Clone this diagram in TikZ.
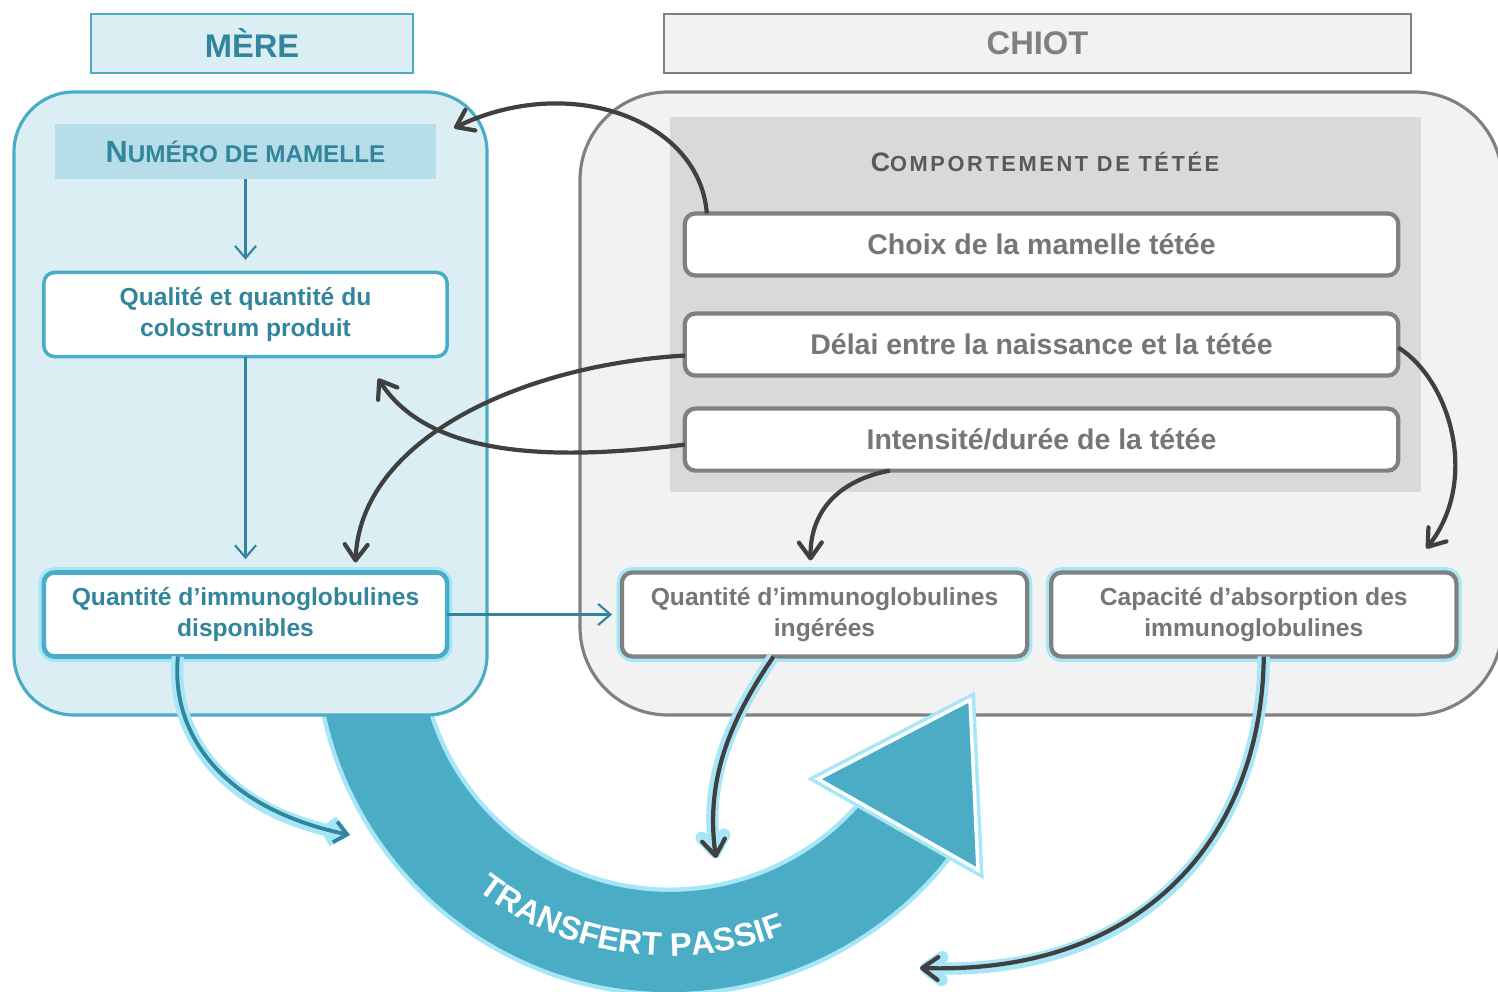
\documentclass[tikz,border=0pt]{standalone}
\usepackage{fontspec}
\setmainfont{Liberation Sans}
\usetikzlibrary{positioning, arrows.meta, calc, decorations.text}
\definecolor{mereline}{HTML}{4BACC6}
\definecolor{meretext}{HTML}{31859C}
\definecolor{merefill}{HTML}{DAEEF3}
\definecolor{numfill}{HTML}{B7DEE8}
\definecolor{chiotline}{HTML}{808080}
\definecolor{chiotfill}{HTML}{F2F2F2}
\definecolor{compfill}{HTML}{D9D9D9}
\definecolor{comptext}{HTML}{595959}
\definecolor{boxtext}{HTML}{767676}
\definecolor{arrowc}{HTML}{404040}
\definecolor{glowc}{HTML}{A6E6F7}
\newcommand\tpfont{\color{white}\bfseries\fontsize{9.3}{10}\selectfont}

\begin{document}
\begin{tikzpicture}[x=0.01cm, y=-0.01cm, node distance=3.5mm,
  title/.style={draw, line width=0.6pt, minimum height=0.59cm, inner sep=0pt, outer sep=0pt, font=\fontsize{9.3}{11}\selectfont\bfseries},
  mbox/.style={draw=mereline, fill=white, rounded corners=3pt, line width=1pt, minimum width=4.03cm, minimum height=0.84cm, inner sep=0pt, outer sep=0pt, align=center, text=meretext, font=\fontsize{7}{8.8}\selectfont\bfseries},
  cbox/.style={draw=chiotline, fill=white, rounded corners=3pt, line width=1.2pt, minimum width=7.13cm, minimum height=0.62cm, inner sep=0pt, outer sep=0pt, align=center, text=boxtext, font=\fontsize{8.1}{10}\selectfont\bfseries},
  lowbox/.style={minimum width=4.05cm, minimum height=0.84cm, font=\fontsize{7}{8.8}\selectfont\bfseries},
  glow/.style={preaction={draw=glowc, line width=#1}},
  dkarrow/.style={draw=arrowc, line width=1.2pt, -{Straight Barb[round,length=4.5pt,width=6.5pt]}},
  tlarrow/.style={draw=meretext, line width=0.6pt, -{Straight Barb[length=3.5pt,width=6pt]}}]
  \useasboundingbox (0,0) rectangle (1498,992);

  % transfert passif
  \draw[glowc, line width=31pt] (670,640) ++(172:302) arc[start angle=172, end angle=37, radius=302];
  \draw[mereline, line width=28.5pt] (670,640) ++(172:302) arc[start angle=172, end angle=37, radius=302];

  \draw[mereline, fill=merefill, line width=0.9pt, rounded corners=17pt] (14,92) rectangle (487,715);
  \draw[chiotline, fill=chiotfill, line width=0.9pt, rounded corners=25pt] (580,92) rectangle (1502,715);
  \fill[compfill] (670,117) rectangle (1421,492);

  \node[title, draw=mereline, fill=merefill, text=meretext, minimum width=3.22cm] (mere) at (252,43.5) {MÈRE};
  \node[title, draw=chiotline, fill=chiotfill, text=chiotline, minimum width=7.47cm] (chiot) at (1037.5,43.5) {CHIOT};

  \node[fill=numfill, minimum width=3.81cm, minimum height=0.55cm, inner sep=0pt, outer sep=0pt, text=meretext, font=\bfseries] (num) at (245.5,151.5) {\fontsize{8.7}{10}\selectfont N\fontsize{6.9}{10}\selectfont UMÉRO DE MAMELLE};
  \node[text=comptext, font=\bfseries] (comp) at (1045,162) {\fontsize{7.6}{10}\selectfont C\fontsize{6.2}{10}\selectfont\addfontfeature{LetterSpace=12}OMPORTEMENT DE TÉTÉE};

  \node[mbox] (qualite) at (245.5,314.5) {Qualité et quantité du\\colostrum produit};
  \node[mbox, line width=1.3pt, glow=3pt] (dispo) at (245.5,614.5) {Quantité d’immunoglobulines\\disponibles};

  \node[cbox] (choix) at (1041.5,244.5) {Choix de la mamelle tétée};
  \node[cbox, below=0.38cm of choix] (delai) {Délai entre la naissance et la tétée};
  \node[cbox, below=0.33cm of delai] (intens) {Intensité/durée de la tétée};
  \node[cbox, lowbox, glow=3pt] (ingeree) at (824.5,614.5) {Quantité d’immunoglobulines\\ingérées};
  \node[cbox, lowbox, glow=3pt, right=0.24cm of ingeree] (capacite) {Capacité d’absorption des\\immunoglobulines};

  \coordinate (endA) at (716,858);
  \coordinate (endB) at (920,968);
  \coordinate (endC) at (350,835);

  \draw[tlarrow, shorten >=3.6pt] (num) -- (qualite);
  \draw[tlarrow, shorten >=3.8pt] (qualite) -- (dispo);
  \draw[tlarrow, shorten >=2.8pt] (dispo) -- (ingeree);

  \draw[dkarrow] ($(choix.north west)+(22,0)$) .. controls (700,120) and (570,72) .. ($(num.north east)+(18,4)$);
  \draw[dkarrow] ($(delai.west)+(0,11)$) .. controls (520,365) and (360,440) .. ($(dispo.north)+(110,-10)$);
  \draw[dkarrow] ($(intens.west)+(0,5)$) .. controls (560,460) and (430,460) .. ($(qualite.south east)+(-69,22)$);
  \draw[dkarrow] ($(intens.south west)+(205,0)$) .. controls (840,480) and (810,510) .. ($(ingeree.north)+(-14,-12)$);
  \draw[dkarrow] ($(delai.east)+(0,3)$) .. controls (1450,380) and (1480,480) .. ($(capacite.north east)+(-30,-24)$);
  \draw[dkarrow, glow=3.5pt] ($(ingeree.south)+(-51,0)$) .. controls (730,720) and (705,780) .. (endA);
  \draw[dkarrow, glow=3.5pt] ($(capacite.south)+(10,0)$) .. controls (1262,830) and (1150,975) .. (endB);
  \draw[tlarrow, line width=1.1pt, glow=3.5pt] ($(dispo.south west)+(134,0)$) .. controls (170,740) and (230,810) .. (endC);

  \filldraw[fill=mereline, draw=white, line width=1pt, glow=3pt] (818,779) -- (970,700) -- (978,870) -- cycle;
  \path[decorate, decoration={text along path, text align=center, text={|\tpfont|TRANSFERT PASSIF}}] (670,640) ++(145:316) arc[start angle=145, end angle=51, radius=316];
\end{tikzpicture}
\end{document}
